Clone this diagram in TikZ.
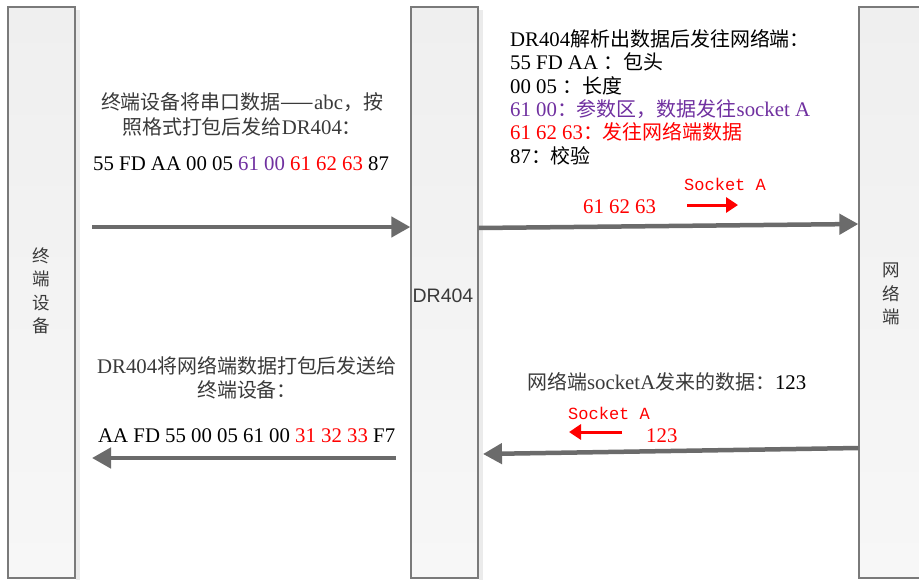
\documentclass[tikz,border=0pt]{standalone}
\usepackage{fontspec}
\setmainfont{Liberation Serif}
\newfontfamily\cjk[Scale=0.96]{Noto Sans CJK SC}
\newfontfamily\cjklane{Noto Sans CJK SC}
\newfontfamily\monofnt{Liberation Mono}
\newfontfamily\arialfnt{Liberation Sans}
\usetikzlibrary{arrows.meta}
\definecolor{boxline}{HTML}{7A7A7A}
\definecolor{boxtop}{HTML}{EFEFEF}
\definecolor{boxbot}{HTML}{F7F7F7}
\definecolor{arrgray}{HTML}{6B6B6B}
\definecolor{txtgray}{HTML}{3A3A3A}
\definecolor{purp}{HTML}{7030A0}
\definecolor{redc}{HTML}{FF0000}
\newcommand{\zh}[1]{{\cjk #1}}
\tikzset{
  lane/.style={draw=boxline, line width=1.3pt, top color=boxtop, bottom color=boxbot,
    minimum width=67pt, minimum height=571pt, inner sep=0pt},
  lanetxt/.style={text=txtgray, font=\cjklane\fontsize{17.5}{23.5}\selectfont, align=center, inner sep=0pt},
  txt/.style={inner sep=0pt, font=\fontsize{20.8}{24}\selectfont},
  bigarrow/.style={draw=arrgray, line width=4.5pt, -{Triangle[length=19pt,width=20pt]}},
  redarrow/.style={draw=redc, line width=3pt, -{Triangle[length=12pt,width=15pt]}},
  shadowbox/.style={fill=black!8, draw=none}
}
\begin{document}
\begin{tikzpicture}[x=1pt,y=-1pt]
\useasboundingbox (0,0) rectangle (919,581);
\clip (0,0) rectangle (919,581);
\fill[white] (0,0) rectangle (919,581);
% shadows
\fill[shadowbox] (76,10) rectangle (80,580);
\fill[shadowbox] (479,10) rectangle (483,580);
% lanes
\node[lane] (L) at (41.5,292.5) {};
\node[lane] (M) at (444.5,292.5) {};
\node[lane] (R) at (892.5,292.5) {};
\node[lanetxt] (Lt) at (41,291) {终\\端\\设\\备};
\node[text=txtgray, font=\arialfnt\fontsize{19.5}{22}\selectfont, inner sep=0pt] (Mt) at (443,296) {DR404};
\node[lanetxt] (Rt) at (891,294) {网\\络\\端};

% left top text
\node[txt, text=txtgray, anchor=base] (t1) at (242,109) {\zh{终端设备将串口数据——}abc\zh{，按}};
\node[txt, text=txtgray, anchor=base] (t2) at (242,134) {\zh{照格式打包后发给}DR404\zh{：}};
\node[txt, anchor=base west] (t3) at (93,170) {55 FD AA 00 05 \textcolor{purp}{61 00} \textcolor{redc}{61 62 63} 87};

% right top text
\node[txt, anchor=base west] (r1) at (510,46) {DR404\zh{解析出数据后发往网络端：}};
\node[txt, anchor=base west] (r2) at (510,69) {55 FD AA \zh{：包头}};
\node[txt, anchor=base west] (r3) at (510,93) {00 05 \zh{：长度}};
\node[txt, anchor=base west, text=purp] (r4) at (510,116) {61 00\zh{：参数区，数据发往}socket A};
\node[txt, anchor=base west, text=redc] (r5) at (510,139) {61 62 63\zh{：发往网络端数据}};
\node[txt, anchor=base west] (r6) at (510,163) {87\zh{：校验}};
\node[inner sep=0pt, anchor=base west, text=redc, font=\monofnt\fontsize{17}{20}\selectfont] (s1) at (684,190) {Socket A};
\node[txt, anchor=base west, text=redc] (n1) at (583,213) {61 62 63};
\coordinate (ra1) at (687,205);
\coordinate (ra2) at (738,205);
\draw[redarrow] (ra1) -- (ra2);

% bottom left text
\node[txt, text=txtgray, anchor=base] (b1) at (247,373) {DR404\zh{将网络端数据打包后发送给}};
\node[txt, text=txtgray, anchor=base] (b2) at (247,397) {\zh{终端设备：}};
\node[txt, anchor=base west] (b3) at (98,442) {AA FD 55 00 05 61 00 \textcolor{redc}{31 32 33} F7};

% bottom right text
\node[txt, anchor=base west, text=txtgray] (br1) at (527,389) {\zh{网络端}socketA\zh{发来的数据：}\textcolor{black}{123}};
\node[inner sep=0pt, anchor=base west, text=redc, font=\monofnt\fontsize{17}{20}\selectfont] (s2) at (568,419) {Socket A};
\node[txt, anchor=base west, text=redc] (n2) at (646,442) {123};
\coordinate (rb1) at (622,432);
\coordinate (rb2) at (569,432);
\draw[redarrow] (rb1) -- (rb2);

% big arrows
\coordinate (a1s) at (92,227);
\draw[bigarrow] (a1s) -- (a1s -| M.west);
\coordinate (a2s) at (M.east |- 0,228);
\coordinate (a2e) at (R.west |- 0,224);
\draw[bigarrow] (a2s) -- (a2e);
\coordinate (a3s) at (R.west |- 0,448);
\coordinate (a3e) at (483,454);
\draw[bigarrow] (a3s) -- (a3e);
\coordinate (a4s) at (396,458);
\coordinate (a4e) at (92,458);
\draw[bigarrow] (a4s) -- (a4e);
\end{tikzpicture}
\end{document}
